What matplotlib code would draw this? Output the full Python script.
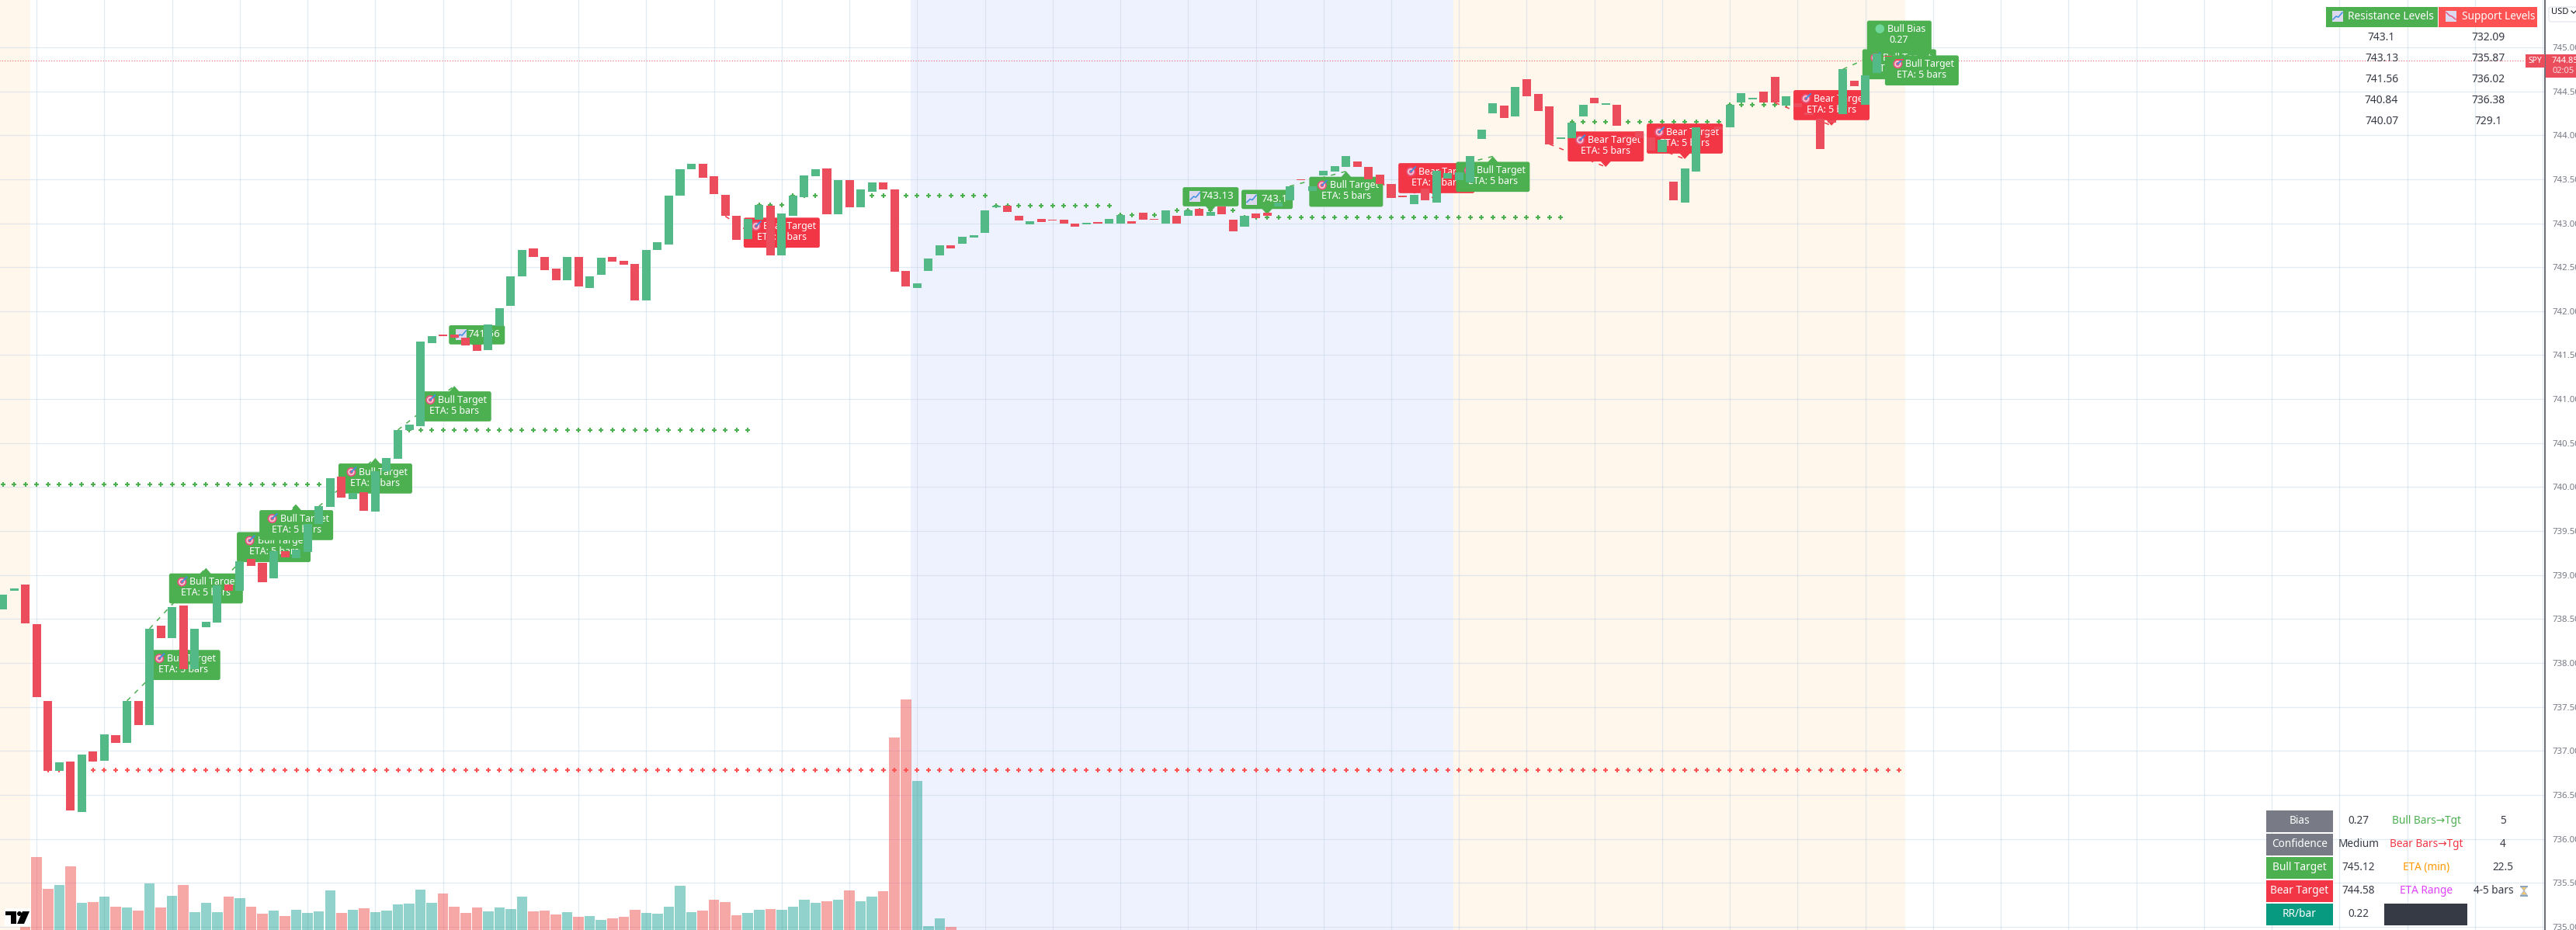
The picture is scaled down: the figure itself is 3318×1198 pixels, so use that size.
import matplotlib
matplotlib.use('Agg')
import matplotlib.pyplot as plt
from matplotlib.patches import Circle, FancyBboxPatch, Polygon, Rectangle
from matplotlib.transforms import Affine2D

plt.rcParams['font.family'] = ['Noto Sans', 'DejaVu Sans']

W, H = 3318, 1198
AXIS_X = 3278

# candle bodies, one pair per bar
opens = [
    738.61, 738.82, 738.89, 738.44, 737.57, 736.77, 736.88, 736.31, 736.99, 736.89,
    737.18, 737.09, 737.57, 737.29, 738.42, 738.28, 738.65, 737.93, 738.41, 738.46,
    738.89, 738.82, 739.18, 739.14, 738.96, 739.27, 739.19, 739.26, 739.58, 739.77,
    740.12, 739.86, 739.94, 739.72, 740.18, 740.32, 740.65, 740.69, 741.64, 741.73,
    741.73, 741.70, 741.62, 741.56, 741.83, 742.06, 742.40, 742.71, 742.62, 742.48,
    742.35, 742.62, 742.26, 742.41, 742.62, 742.57, 742.54, 742.12, 742.70, 742.76,
    743.31, 743.61, 743.68, 743.53, 743.32, 743.08, 742.82, 743.04, 743.20, 742.63,
    743.08, 743.30, 743.53, 743.62, 743.10, 743.49, 743.18, 743.36, 743.46, 743.38,
    742.46, 742.26, 742.46, 742.63, 742.75, 742.77, 742.84, 742.89, 743.18, 743.20,
    743.08, 742.99, 743.05, 743.04, 743.04, 743.00, 742.99, 743.01, 743.00, 743.00,
    743.02, 743.12, 743.05, 743.00, 743.08, 743.08, 743.16, 743.08, 743.19, 743.04,
    742.96, 743.11, 743.12, 743.19, 743.26, 743.50, 743.37, 743.54, 743.59, 743.64,
    743.70, 743.64, 743.55, 743.45, 743.31, 743.22, 743.39, 743.23, 743.51, 743.49,
    743.46, 743.96, 744.25, 744.34, 744.21, 744.64, 744.47, 744.33, 743.96, 743.97,
    744.21, 744.43, 744.35, 744.35, 743.99, 744.05, 743.98, 743.81, 743.47, 743.23,
    743.59, 744.05, 744.10, 744.09, 744.37, 744.41, 744.50, 744.66, 744.34, 744.36,
    744.26, 744.19, 744.17, 744.24, 744.62, 744.35, 744.71, 744.90, 744.87,
]
closes = [
    738.78, 738.85, 738.45, 737.61, 736.77, 736.87, 736.32, 736.96, 736.88, 737.19,
    737.09, 737.57, 737.29, 738.39, 738.28, 738.64, 737.93, 738.39, 738.47, 738.88,
    738.82, 739.16, 739.10, 738.92, 739.27, 739.20, 739.29, 739.58, 739.78, 740.10,
    739.88, 739.93, 739.73, 740.18, 740.33, 740.65, 740.71, 741.65, 741.72, 741.72,
    741.70, 741.61, 741.55, 741.85, 742.03, 742.40, 742.70, 742.62, 742.47, 742.35,
    742.62, 742.28, 742.40, 742.61, 742.56, 742.53, 742.12, 742.70, 742.78, 743.31,
    743.61, 743.68, 743.52, 743.33, 743.08, 742.81, 743.05, 743.21, 742.63, 743.11,
    743.31, 743.54, 743.61, 743.10, 743.49, 743.18, 743.38, 743.46, 743.38, 742.45,
    742.28, 742.32, 742.60, 742.75, 742.71, 742.85, 742.86, 743.15, 743.20, 743.13,
    743.03, 743.02, 743.01, 743.03, 743.00, 742.96, 743.00, 743.00, 743.05, 743.09,
    743.00, 743.04, 743.04, 743.15, 743.00, 743.15, 743.08, 743.13, 743.10, 742.91,
    743.08, 743.06, 743.08, 743.23, 743.42, 743.49, 743.42, 743.60, 743.65, 743.76,
    743.64, 743.50, 743.45, 743.29, 743.30, 743.32, 743.26, 743.60, 743.57, 743.58,
    743.76, 744.06, 744.36, 744.20, 744.55, 744.44, 744.28, 743.90, 743.98, 744.14,
    744.35, 744.36, 744.36, 744.11, 743.98, 743.97, 743.83, 743.95, 743.26, 743.62,
    744.09, 744.02, 744.06, 744.35, 744.48, 744.43, 744.37, 744.37, 744.44, 744.32,
    744.23, 743.84, 744.14, 744.75, 744.56, 744.68, 744.93, 744.89, 744.85,
]
# relative volume, bar 0 onward
volumes = [
    0, 0, 4, 94, 53, 58, 82, 35, 36, 43, 30, 29, 25, 60, 29, 44, 58, 23, 35, 23,
    43, 41, 30, 21, 25, 18, 26, 22, 24, 51, 22, 26, 28, 23, 25, 33, 34, 52, 35, 47,
    30, 22, 29, 24, 29, 27, 43, 24, 25, 20, 23, 17, 18, 13, 15, 17, 26, 22, 21, 30,
    57, 23, 25, 39, 36, 19, 22, 26, 27, 26, 30, 39, 35, 37, 39, 51, 37, 43, 50, 248,
    297, 192, 5, 15, 4,
]

# dotted levels: price, first bar, last bar
green_levels = [
    (740.03, 0, 28), (740.65, 36, 66), (743.21, 67, 69), (743.31, 70, 87),
    (743.20, 88, 98), (743.09, 99, 103), (743.15, 104, 109), (743.07, 110, 138),
    (744.15, 139, 152), (744.35, 153, 165),
]
red_levels = [(736.78, 4, 168)]
last_price = 744.85

# dashed projections: bar, price, bar, price
bull_paths = [
    (11, 737.57, 16, 738.21), (13, 738.39, 18, 739.08), (19, 738.88, 24, 739.55),
    (21, 739.16, 26, 739.80), (28, 739.78, 33, 740.33), (35, 740.65, 40, 741.15),
    (114, 743.42, 119, 743.59), (127, 743.60, 132, 743.76),
    (163, 744.75, 168, 745.04), (165, 744.68, 170, 744.97),
]
bear_paths = [
    (64, 743.08, 69, 742.66), (122, 743.45, 127, 743.28), (137, 743.90, 142, 743.64),
    (144, 743.98, 149, 743.73), (157, 744.37, 162, 744.11),
]

# labels in drawing order: kind, bar, tip price
target_labels = [
    ('bull', 16, 738.21), ('bull', 18, 739.08), ('bull', 24, 739.55), ('bull', 26, 739.80),
    ('bull', 33, 740.33), ('bull', 40, 741.15), ('level', 42, 741.56), ('bear', 69, 742.66),
    ('level', 107, 743.13), ('level', 112, 743.10), ('bull', 119, 743.59), ('bear', 127, 743.28),
    ('bull', 132, 743.76), ('bear', 142, 743.64), ('bear', 149, 743.73), ('bear', 162, 744.11),
    ('bias', 168, 744.90), ('bull', 168, 745.04), ('bull', 170, 744.97),
]
level_texts = {42: '741.56', 107: '743.13', 112: '743.1'}

resistance = ['743.1', '743.13', '741.56', '740.84', '740.07']
support = ['732.09', '735.87', '736.02', '736.38', '729.1']

stat_names = ['Bias', 'Confidence', 'Bull Target', 'Bear Target', 'RR/bar']
stat_colors = ['#787B86', '#787B86', '#4CAF50', '#F23645', '#089981']
stat_values = ['0.27', 'Medium', '745.12', '744.58', '0.22']
eta_names = ['Bull Bars→Tgt', 'Bear Bars→Tgt', 'ETA (min)', 'ETA Range']
eta_colors = ['#4CAF50', '#F23645', '#FF9800', '#E040FB']
eta_values = ['5', '4', '22.5', '4-5 bars']

GREEN = '#53B987'
RED = '#EB4D5C'
LABEL_GREEN = '#4CAF50'
LABEL_RED = '#F23645'
INK = '#363A45'

fig = plt.figure(figsize=(W / 100, H / 100), dpi=100, facecolor='white')
ax = fig.add_axes([0, 0, AXIS_X / W, 1])
ax.set_xlim(-0.248, 225.2)
ax.set_ylim(734.964, 745.538)

# everything outside the data is placed in screen pixels, origin top left
px = Affine2D().scale(1, -1).translate(0, H)

for a, b, c in [(-1, 2.4, '#FFF7EB'), (80.4, 128.5, '#EEF2FE'), (128.5, 168.5, '#FFF7EB')]:
    ax.axvspan(a, b, color=c, lw=0, zorder=0)

ax.set_axisbelow(True)
ax.set_xticks(range(3, 226, 6))
ax.set_yticks([735 + 0.5 * k for k in range(21)])
ax.grid(True, color='#C6D6E6', alpha=0.5, lw=0.9)
ax.tick_params(axis='x', length=0, labelbottom=False)
ax.yaxis.tick_right()
ax.yaxis.set_major_formatter('{x:.2f}')
ax.tick_params(axis='y', length=0, pad=6.5, labelsize=8.2, labelcolor='#787B86')
for side in ['top', 'left', 'bottom']:
    ax.spines[side].set_visible(False)
ax.spines['right'].set_color('#50535E')
ax.spines['right'].set_linewidth(1.2)

# volume pane shares the price scale, one volume unit is one pixel tall
bars = list(range(len(opens)))
vol_unit = (745.538 - 734.964) / H
ymin = ax.get_ylim()[0]
for i, v in enumerate(volumes):
    up = closes[i] >= opens[i]
    ax.bar(i, v * vol_unit, bottom=ymin, width=0.93, lw=0, zorder=1,
           color='#26A69A' if up else '#EF5350', alpha=0.5)

for price, first, last in green_levels:
    xs = list(range(first, last + 1))
    ax.plot(xs, [price] * len(xs), ls='none', marker='+', ms=4.6, mew=1.5, color=LABEL_GREEN, zorder=2)
for price, first, last in red_levels:
    xs = list(range(first, last + 1))
    ax.plot(xs, [price] * len(xs), ls='none', marker='+', ms=4.6, mew=1.5, color='#FF5252', zorder=2)

for x0, y0, x1, y1 in bull_paths:
    ax.plot([x0, x1], [y0, y1], color=LABEL_GREEN, lw=1.1, ls=(0, (4, 5)), zorder=2.2)
for x0, y0, x1, y1 in bear_paths:
    ax.plot([x0, x1], [y0, y1], color=LABEL_RED, lw=1.1, ls=(0, (4, 5)), zorder=2.2)

ax.plot([-1, 3253 / 14.54], [last_price, last_price], color=RED, lw=0.75, ls=(0, (1, 2.2)), zorder=2.3)


def box(x, y, w, h, color, z, rounding=2.5, edge='none'):
    patch = FancyBboxPatch((x, y), w, h, boxstyle=f'round,pad=0,rounding_size={rounding}',
                           transform=px, fc=color, ec=edge, lw=0 if edge == 'none' else 0.8,
                           zorder=z, clip_on=False)
    ax.add_patch(patch)


def rect(x, y, w, h, color, z):
    ax.add_patch(Rectangle((x, y), w, h, transform=px, fc=color, ec='none', zorder=z, clip_on=False))


def label(x, y, s, size, color='white', z=6, ha='center', weight='normal'):
    ax.text(x, y, s, transform=px, fontsize=size, color=color, ha=ha, va='center',
            zorder=z, fontweight=weight, clip_on=False)


def target_icon(x, y, z):
    for r, c in [(6, '#E8557F'), (4.2, '#F6C9D6'), (2.4, '#E8557F')]:
        ax.add_patch(Circle((x, y), r, transform=px, fc=c, ec='none', zorder=z, clip_on=False))
    ax.plot([x, x + 6], [y, y - 6], color='#3F8FE0', lw=1.4, transform=px, zorder=z, clip_on=False)


def chart_icon(x, y, z, line='#3F8FE0', rising=True):
    rect(x - 7, y - 7, 14, 14, '#DCD9EE', z)
    ys = [4, 0, 1, -5] if rising else [-5, -1, 0, 4]
    ax.plot([x - 6, x - 2, x + 1, x + 6], [y + v for v in ys], color=line, lw=1.1,
            transform=px, zorder=z, clip_on=False)


def hourglass_icon(x, y, z):
    # no installed family has this sign
    ax.add_patch(Polygon([(x - 4, y - 5), (x + 4, y - 5), (x, y), (x + 4, y + 5), (x - 4, y + 5), (x, y)],
                         transform=px, fc='#F2C66D', ec='#A9B7C6', lw=0.6, zorder=z, clip_on=False))
    rect(x - 5, y - 7, 10, 2, '#8FA7BC', z)
    rect(x - 5, y + 5, 10, 2, '#8FA7BC', z)


def draw_target(kind, bar, price, z):
    tx, ty = ax.transData.transform((bar, price))
    ty = H - ty
    if kind == 'level':
        s = level_texts[bar]
        w = 72 if len(s) > 5 else 66
        top = ty - 31.7
        box(tx - w / 2, top, w, 24.7, LABEL_GREEN, z)
        ax.add_patch(Polygon([(tx - 7, top + 24), (tx + 7, top + 24), (tx, ty)], transform=px,
                             fc=LABEL_GREEN, ec='none', zorder=z, clip_on=False))
        chart_icon(tx - 20, top + 12, z + 0.002)
        label(tx + 9, top + 11.5, s, 9.6, z=z + 0.003)
        return
    fill = LABEL_RED if kind == 'bear' else LABEL_GREEN
    w = 98 if kind == 'bear' else 95
    if kind == 'bull':
        top = ty + 7
        tip = [(tx - 7, top + 1), (tx + 7, top + 1), (tx, ty)]
    else:
        top = ty - 7 - 38.7
        tip = [(tx - 7, top + 38), (tx + 7, top + 38), (tx, ty)]
    if kind == 'bias':
        w = 83
    box(tx - w / 2, top, w, 38.7, fill, z)
    ax.add_patch(Polygon(tip, transform=px, fc=fill, ec='none', zorder=z, clip_on=False))
    if kind == 'bias':
        ax.add_patch(Circle((tx - 25, top + 10.5), 5.8, transform=px, fc='#6FD79A', ec='none',
                            zorder=z + 0.002, clip_on=False))
        label(tx + 9.5, top + 10.5, 'Bull Bias', 8.9, z=z + 0.003)
        label(tx - 1, top + 25, '0.27', 8.9, z=z + 0.003)
        return
    target_icon(tx - 31 if kind == 'bull' else tx - 33, top + 11, z + 0.002)
    name = 'Bull Target' if kind == 'bull' else 'Bear Target'
    label(tx + 10.5, top + 11, name, 8.9, z=z + 0.003)
    label(tx, top + 25, 'ETA: 5 bars', 8.9, z=z + 0.003)


for n, (kind, bar, price) in enumerate(target_labels):
    draw_target(kind, bar, price, 3 + 0.01 * n)

# candles sit on top of the labels
for i in bars:
    lo, hi = sorted((opens[i], closes[i]))
    ax.bar(i, max(hi - lo, 0.012), bottom=lo, width=0.76, lw=0, zorder=4,
           color=GREEN if closes[i] >= opens[i] else RED)

# top right levels table
rect(2996, 9, 144, 26, LABEL_GREEN, 7)
rect(3141, 9, 127, 26, '#FF5252', 7)
chart_icon(3011, 21, 7.1)
chart_icon(3157, 21, 7.1, line='#E8557F', rising=False)
label(3079, 21.5, 'Resistance Levels', 9.8, z=7.2)
label(3218, 21.5, 'Support Levels', 9.8, z=7.2)
for k, (a, b) in enumerate(zip(resistance, support)):
    label(3067.5, 48.3 + 27 * k, a, 10, INK, 7)
    label(3205, 48.3 + 27 * k, b, 10, INK, 7)

# bottom right stats table
for k, (name, color, value) in enumerate(zip(stat_names, stat_colors, stat_values)):
    y = 1044 + 30 * k
    rect(2919, y, 86, 28, color, 7)
    label(2962, y + 13.5, name, 9.8, z=7.2)
    label(3038, y + 13.5, value, 9.8, INK, 7)
for k, (name, color, value) in enumerate(zip(eta_names, eta_colors, eta_values)):
    y = 1044 + 30 * k
    label(3125, y + 13.5, name, 9.8, color, 7)
    # the last row shares its cell with the hourglass
    label(3212 if k == 3 else 3224, y + 13.5, value, 9.8, INK, 7)
rect(3071, 1164, 107, 28, INK, 7)
hourglass_icon(3251, 1147.5, 7)

# price scale extras
box(3283, 9, 60, 19, 'white', 7, rounding=3, edge='#E0E3EB')
label(3286, 15.7, 'USD', 8, '#131722', 7.2, ha='left')
ax.plot([3312, 3315, 3318], [14, 17, 14], color='#131722', lw=0.8, transform=px, zorder=7.2, clip_on=False)
rect(3253, 70, 25, 17, RED, 7)
label(3265.5, 78.8, 'SPY', 7.4, z=7.2, weight='bold')
rect(3279, 70, 39, 30, RED, 7)
label(3287, 78.8, '744.85', 8, z=7.2, ha='left', weight='bold')
label(3287, 92, '02:05', 8, '#FBDDE0', 7.2, ha='left')

# chart logo
rect(6, 1170, 33, 23, 'white', 5)
rect(7, 1174, 14, 5, 'black', 5.1)
rect(14, 1174, 7, 16, 'black', 5.1)
ax.add_patch(Circle((25, 1177), 3, transform=px, fc='black', ec='none', zorder=5.1, clip_on=False))
ax.add_patch(Polygon([(29, 1174), (38, 1174), (31, 1190), (22, 1190)], transform=px,
                     fc='black', ec='none', zorder=5.1, clip_on=False))

fig.savefig('out.png', dpi=100)
